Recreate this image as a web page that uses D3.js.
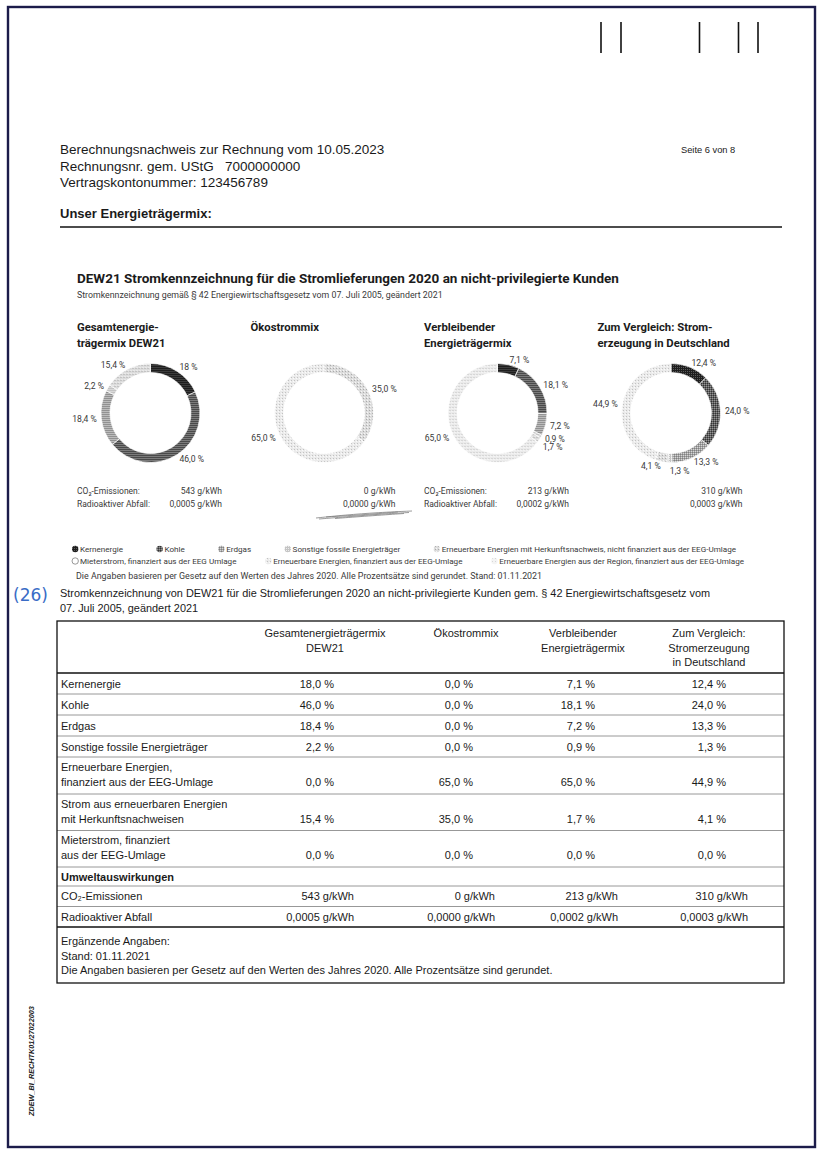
<!DOCTYPE html>
<html><head><meta charset="utf-8">
<script src="https://cdn.jsdelivr.net/npm/d3@7"></script>
<style>body{margin:0;background:#fff} svg{display:block}</style>
</head><body><svg id="c" width="822" height="1153"></svg>
<script>
// ---------------- DATA ----------------
const invoiceLines = ["Berechnungsnachweis zur Rechnung vom 10.05.2023", "Rechnungsnr. gem. UStG   7000000000", "Vertragskontonummer: 123456789"];
const pageLabel = "Seite 6 von 8";
const sectionTitle = "Unser Energieträgermix:";
const chartTitle = "DEW21 Stromkennzeichnung für die Stromlieferungen 2020 an nicht-privilegierte Kunden";
const chartSubtitle = "Stromkennzeichnung gemäß § 42 Energiewirtschaftsgesetz vom 07. Juli 2005, geändert 2021";

// table row order
const categories = ["Kernenergie", "Kohle", "Erdgas", "Sonstige fossile Energieträger",
  "Erneuerbare Energien, finanziert aus der EEG-Umlage",
  "Strom aus erneuerbaren Energien mit Herkunftsnachweisen",
  "Mieterstrom, finanziert aus der EEG-Umlage"];
const categoryLines = [["Kernenergie"], ["Kohle"], ["Erdgas"], ["Sonstige fossile Energieträger"],
  ["Erneuerbare Energien,", "finanziert aus der EEG-Umlage"],
  ["Strom aus erneuerbaren Energien", "mit Herkunftsnachweisen"],
  ["Mieterstrom, finanziert", "aus der EEG-Umlage"]];
const gesamtmix = [18.0, 46.0, 18.4, 2.2, 0.0, 15.4, 0.0];
const oekostrommix = [0.0, 0.0, 0.0, 0.0, 65.0, 35.0, 0.0];
const verbleibend = [7.1, 18.1, 7.2, 0.9, 65.0, 1.7, 0.0];
const deutschland = [12.4, 24.0, 13.3, 1.3, 44.9, 4.1, 0.0];
const series = [gesamtmix, oekostrommix, verbleibend, deutschland];
// order of categories around each donut (indices into categories)
const donutOrder = [0, 1, 2, 3, 5, 4, 6];
const donutLabelOverride = {"0-0": "18 %"};

const panelTitles = [["Gesamtenergie-", "trägermix DEW21"], ["Ökostrommix"], ["Verbleibender", "Energieträgermix"], ["Zum Vergleich: Strom-", "erzeugung in Deutschland"]];
const tableHeaders = [["Gesamtenergieträgermix", "DEW21"], ["Ökostrommix"], ["Verbleibender", "Energieträgermix"], ["Zum Vergleich:", "Stromerzeugung", "in Deutschland"]];
const co2 = ["543", "0", "213", "310"];
const waste = ["0,0005", "0,0000", "0,0002", "0,0003"];
const envLabelShown = [true, false, true, false];
const envLabels = ["CO₂-Emissionen:", "Radioaktiver Abfall:"];
const envTableLabels = ["CO₂-Emissionen", "Radioaktiver Abfall"];

const legendRow1 = ["Kernenergie", "Kohle", "Erdgas", "Sonstige fossile Energieträger", "Erneuerbare Energien mit Herkunftsnachweis, nicht finanziert aus der EEG-Umlage"];
const legendRow1Keys = ["kern", "kohle", "erdgas", "sonst", "hkn"];
const legendRow2 = ["Mieterstrom, finanziert aus der EEG Umlage", "Erneuerbare Energien, finanziert aus der EEG-Umlage", "Erneuerbare Energien aus der Region, finanziert aus der EEG-Umlage"];
const legendRow2Keys = ["mieter", "eeg", "region"];
const legendNote = "Die Angaben basieren per Gesetz auf den Werten des Jahres 2020. Alle Prozentsätze sind gerundet. Stand: 01.11.2021";
const tableIntro = ["Stromkennzeichnung von DEW21 für die Stromlieferungen 2020 an nicht-privilegierte Kunden gem. § 42 Energiewirtschaftsgesetz vom", "07. Juli 2005, geändert 2021"];
const envSection = "Umweltauswirkungen";
const footerLines = ["Ergänzende Angaben:", "Stand: 01.11.2021", "Die Angaben basieren per Gesetz auf den Werten des Jahres 2020. Alle Prozentsätze sind gerundet."];
const annotation = "(26)";
const sideCode = "ZDEW_BI_RECHTK01/27022003";
const catKeys = ["kern", "kohle", "erdgas", "sonst", "eeg", "hkn", "mieter"];

// ---------------- LAYOUT ----------------
const svg = d3.select("#c");
const DOC = "'Liberation Sans', Arial, sans-serif";
const CH = "Roboto, 'Noto Sans', sans-serif";
const fmt = v => v.toFixed(1).replace(".", ",") + " %";

// patterns
const defs = svg.append("defs");
function pattern(id, size, base, dots) {
  const p = defs.append("pattern").attr("id", "p-" + id).attr("patternUnits", "userSpaceOnUse")
    .attr("width", size).attr("height", size);
  p.append("rect").attr("width", size).attr("height", size).attr("fill", base);
  dots.forEach(d => p.append("rect").attr("x", d[0]).attr("y", d[1]).attr("width", 1).attr("height", 1).attr("fill", d[2]));
}
pattern("kern", 2, "#1e1e1e", [[0, 0, "#5a5a5a"]]);
pattern("kohle", 2, "#606060", [[0, 0, "#333333"], [1, 1, "#959595"]]);
pattern("erdgas", 2, "#a2a2a2", [[0, 0, "#d6d6d6"], [1, 1, "#808080"]]);
pattern("sonst", 2, "#c4c4c4", [[0, 0, "#ededed"]]);
pattern("hkn", 3, "#dcdcdc", [[0, 0, "#ababab"], [1, 2, "#f6f6f6"]]);
pattern("eeg", 3, "#ebebeb", [[0, 0, "#c2c2c2"], [2, 1, "#fafafa"]]);
pattern("mieter", 2, "#ffffff", []);
pattern("region", 3, "#f4f4f4", [[0, 0, "#d6d6d6"]]);

// page frame
svg.append("rect").attr("x", 8).attr("y", 7).attr("width", 807).attr("height", 1140)
  .attr("fill", "none").attr("stroke", "#1c1c4a").attr("stroke-width", 2.4);

// top marks
[601, 621, 699.5, 738.5, 758].forEach(x => svg.append("line").attr("x1", x).attr("x2", x)
  .attr("y1", 22).attr("y2", 53).attr("stroke", "#111").attr("stroke-width", 1.6));

// header
const hdr = svg.append("g").attr("font-family", DOC).attr("fill", "#1a1a1a");
invoiceLines.forEach((t, i) => hdr.append("text").attr("x", 60).attr("y", 154 + i * 16.5)
  .attr("font-size", 13.5).style("white-space", "pre").text(t));
hdr.append("text").attr("x", 681).attr("y", 153).attr("font-size", 9.3).text(pageLabel);
hdr.append("text").attr("x", 60).attr("y", 218).attr("font-size", 13).attr("font-weight", "bold").text(sectionTitle);
svg.append("line").attr("x1", 60).attr("x2", 782).attr("y1", 227).attr("y2", 227).attr("stroke", "#111").attr("stroke-width", 1.6);

// chart titles
const ch = svg.append("g").attr("font-family", CH);
ch.append("text").attr("x", 77).attr("y", 283).attr("font-size", 13.5).attr("font-weight", "bold").attr("fill", "#1b1b1b").text(chartTitle);
ch.append("text").attr("x", 77).attr("y", 297.5).attr("font-size", 8.8).attr("fill", "#3a3a3a").text(chartSubtitle);

// donuts
const panelX = d3.scaleLinear().domain([0, 1]).range([77, 250.5]);
const cy = 413, rOuter = 49.5, rInner = 40.5, rLabel = 54;
const pie = d3.pie().sort(null).value(d => d.v);
const arc = d3.arc().innerRadius(rInner).outerRadius(rOuter);

series.forEach((vals, si) => {
  const px = panelX(si), cx = px + 73.5;
  const g = ch.append("g");
  panelTitles[si].forEach((t, li) => g.append("text").attr("x", px).attr("y", 331 + li * 15.5)
    .attr("font-size", 11.3).attr("font-weight", "bold").attr("fill", "#1b1b1b").text(t));
  const data = donutOrder.map(ci => ({ci, v: vals[ci]}));
  const arcs = pie(data);
  const dg = g.append("g").attr("transform", `translate(${cx},${cy})`);
  dg.selectAll("path").data(arcs.filter(a => a.data.v > 0)).join("path")
    .attr("d", arc).attr("fill", a => `url(#p-${catKeys[a.data.ci]})`)
    .attr("stroke", "#fff").attr("stroke-width", 0.7);
  // labels
  const labs = arcs.filter(a => a.data.v > 0).map(a => {
    const ang = (a.startAngle + a.endAngle) / 2;
    const s = Math.sin(ang);
    const key = si + "-" + a.data.ci;
    return {
      text: donutLabelOverride[key] || fmt(a.data.v),
      x: rLabel * s, y: -rLabel * Math.cos(ang),
      anchor: s >= -0.05 ? "start" : "end"
    };
  });
  ["start", "end"].forEach(side => {
    const grp = labs.filter(l => l.anchor === side).sort((a, b) => a.y - b.y);
    for (let k = 1; k < grp.length; k++) if (grp[k].y - grp[k - 1].y < 8.8) grp[k].y = grp[k - 1].y + 8.8;
  });
  dg.selectAll("text").data(labs).join("text")
    .attr("x", l => l.x).attr("y", l => l.y).attr("dy", "0.35em")
    .attr("text-anchor", l => l.anchor).attr("font-size", 8.6).attr("fill", "#3a3a3a").text(l => l.text);
  // environment values
  const eg = g.append("g").attr("font-size", 8.5).attr("fill", "#3a3a3a");
  if (envLabelShown[si]) envLabels.forEach((t, li) => eg.append("text").attr("x", px).attr("y", 494 + li * 12.5).text(t));
  [co2[si] + " g/kWh", waste[si] + " g/kWh"].forEach((t, li) => eg.append("text").attr("x", px + 145).attr("y", 494 + li * 12.5)
    .attr("text-anchor", "end").text(t));
});

// scribble under Ökostrommix values
const scribble = d3.line().curve(d3.curveBasis);
[[[316, 518], [345, 515], [378, 512.5], [412, 511]], [[319, 519], [350, 516.5], [382, 514], [409, 512.5]],
 [[326, 517], [360, 515], [398, 512]], [[335, 518.5], [368, 516], [404, 513.5]]]
  .forEach(pts => svg.append("path").attr("d", scribble(pts)).attr("fill", "none").attr("stroke", "#7a7a7a").attr("stroke-width", 1).attr("opacity", 0.75));

// legend
const lg = ch.append("g").attr("fill", "#3a3a3a");
function legendRow(labels, keys, x0, x1, y, fs) {
  const iconW = 8;
  const items = labels.map((t, i) => {
    const ic = lg.append("circle").attr("cy", y - 3).attr("r", 3.2)
      .attr("fill", `url(#p-${keys[i]})`).attr("stroke", keys[i] === "mieter" ? "#555" : "none").attr("stroke-width", 0.6);
    const tx = lg.append("text").attr("y", y).attr("font-size", fs).text(t);
    return {ic, tx, w: tx.node().getComputedTextLength()};
  });
  const total = d3.sum(items, d => d.w + iconW);
  const gap = Math.max(6, (x1 - x0 - total) / (items.length - 1));
  let x = x0;
  items.forEach(d => {
    d.ic.attr("cx", x + 3.2);
    d.tx.attr("x", x + iconW);
    x += iconW + d.w + gap;
  });
}
legendRow(legendRow1, legendRow1Keys, 72, 736, 552, 8.1);
legendRow(legendRow2, legendRow2Keys, 72, 744, 564, 8.1);
lg.append("text").attr("x", 76).attr("y", 579).attr("font-size", 8.9).text(legendNote);

// annotation & intro
svg.append("text").attr("x", 13).attr("y", 601).attr("font-family", "'DejaVu Sans', sans-serif").attr("font-size", 17)
  .attr("fill", "#3a6cc6").text(annotation);
const tg = svg.append("g").attr("font-family", DOC).attr("fill", "#1a1a1a").attr("font-size", 11);
tableIntro.forEach((t, i) => tg.append("text").attr("x", 60).attr("y", 597 + i * 14.5).attr("font-size", 10.9).text(t));

// table
const tX0 = 57, tX1 = 784, tY0 = 621;
const rowHeights = [52, 21, 21, 21, 21, 37, 36.5, 36.5, 19, 20.5, 20.5, 56];
const edges = rowHeights.reduce((acc, h) => (acc.push(acc[acc.length - 1] + h), acc), [tY0]);
const labelX = 61;
const pctRight = [334, 473, 595, 726];
const envRight = [354, 495, 618, 748];
const headCenter = [325, 466, 583, 709];

edges.slice(1, -1).forEach((y, i) => {
  const strong = i === 0 || i === edges.length - 3;
  tg.append("line").attr("x1", tX0).attr("x2", tX1).attr("y1", y).attr("y2", y)
    .attr("stroke", strong ? "#111" : "#8c8c8c").attr("stroke-width", strong ? 1.7 : 0.9);
});
tg.append("rect").attr("x", tX0).attr("y", tY0).attr("width", tX1 - tX0).attr("height", edges[edges.length - 1] - tY0)
  .attr("fill", "none").attr("stroke", "#111").attr("stroke-width", 1.3);

tableHeaders.forEach((lines, c) => lines.forEach((t, li) => tg.append("text").attr("x", headCenter[c])
  .attr("y", tY0 + 16 + li * 14.5).attr("text-anchor", "middle").text(t)));

categoryLines.forEach((lines, r) => {
  const top = edges[r + 1], bot = edges[r + 2];
  const base = lines.length === 1 ? (top + bot) / 2 + 4 : top + 13.5;
  lines.forEach((t, li) => tg.append("text").attr("x", labelX).attr("y", base + li * 15).text(t));
  const vy = base + (lines.length - 1) * 15;
  series.forEach((vals, c) => tg.append("text").attr("x", pctRight[c]).attr("y", vy)
    .attr("text-anchor", "end").text(fmt(vals[r])));
});
// environment section
tg.append("text").attr("x", labelX).attr("y", (edges[8] + edges[9]) / 2 + 4).attr("font-weight", "bold").text(envSection);
[co2.map(v => v + " g/kWh"), waste.map(v => v + " g/kWh")].forEach((vals, k) => {
  const y = (edges[9 + k] + edges[10 + k]) / 2 + 4;
  tg.append("text").attr("x", labelX).attr("y", y).text(envTableLabels[k]);
  vals.forEach((t, c) => tg.append("text").attr("x", envRight[c]).attr("y", y).attr("text-anchor", "end").text(t));
});
footerLines.forEach((t, i) => tg.append("text").attr("x", labelX).attr("y", edges[11] + 18 + i * 14.5).text(t));

// side code
svg.append("text").attr("transform", "translate(34,1116) rotate(-90)").attr("font-family", DOC)
  .attr("font-size", 7.3).attr("font-weight", "bold").attr("font-style", "italic").attr("fill", "#222").text(sideCode);
</script></body></html>
